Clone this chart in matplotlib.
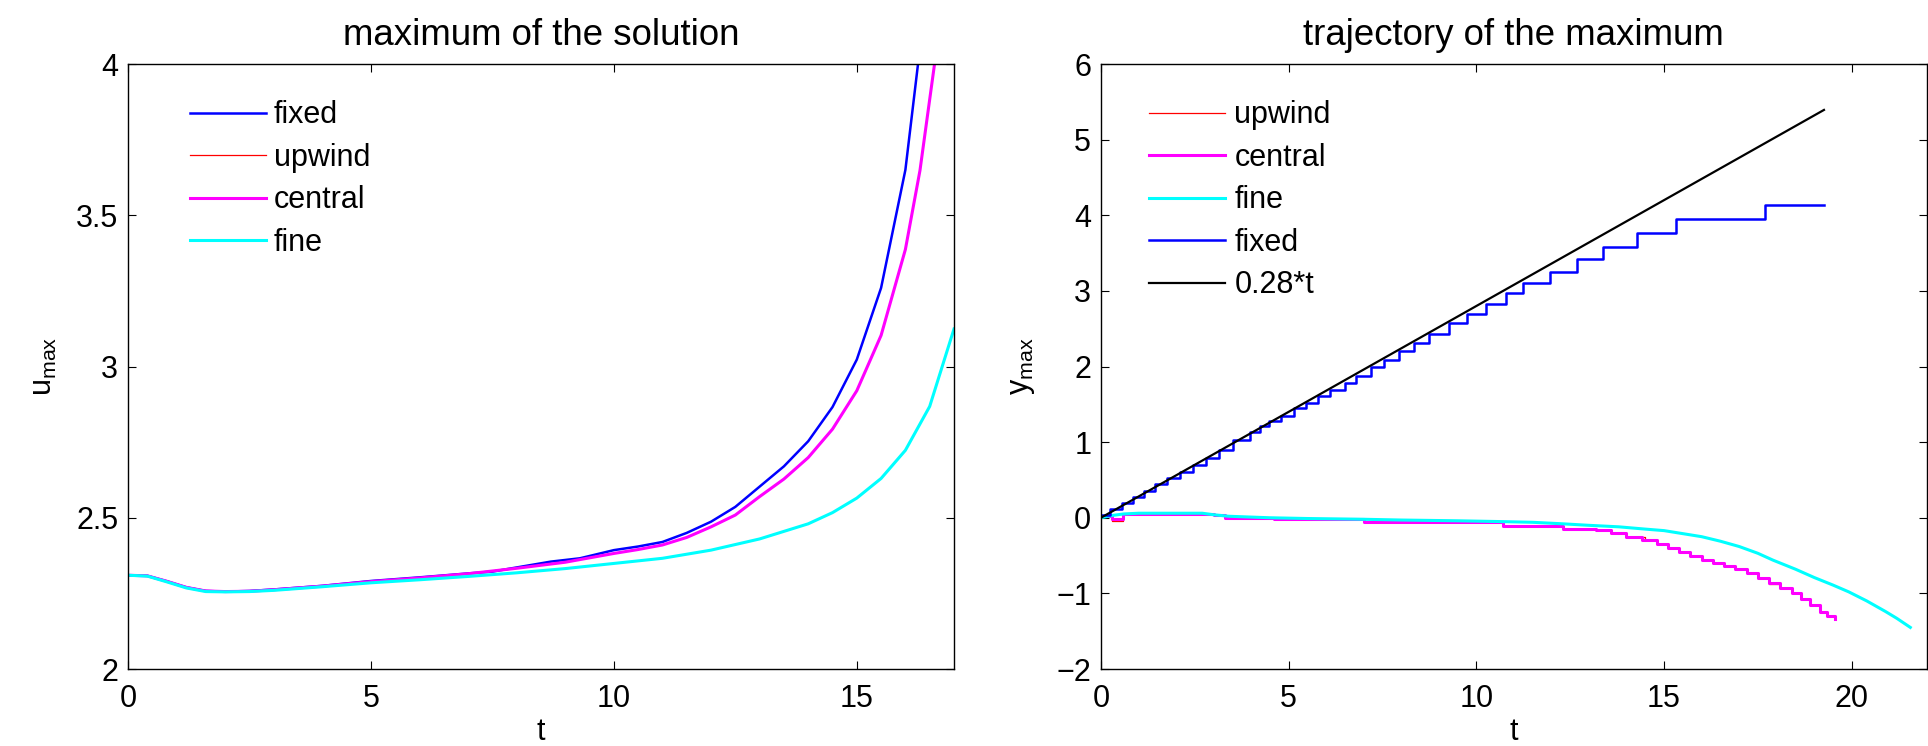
import numpy as np
import matplotlib
matplotlib.use("Agg")
import matplotlib.pyplot as plt
from matplotlib.ticker import FuncFormatter

plt.rcParams['font.family'] = ['Liberation Sans', 'DejaVu Sans']
plt.rcParams['mathtext.default'] = 'regular'
plt.rcParams['font.size'] = 22

BLUE, RED, MAGENTA, CYAN = '#0000ff', '#ff0000', '#ff00ff', '#00ffff'

# ---- left panel: maximum of the solution ----
t_fixed = [0, 0.4, 0.8, 1.2, 1.6, 2.0, 2.5, 3, 4, 5, 6, 7, 7.5, 8.7, 9.3, 10, 10.5, 11,
           11.5, 12, 12.5, 13, 13.5, 14, 14.5, 15, 15.5, 16, 16.26]
u_fixed = [2.31, 2.308, 2.29, 2.27, 2.258, 2.256, 2.258, 2.263, 2.275, 2.291, 2.303, 2.316,
           2.322, 2.355, 2.366, 2.393, 2.405, 2.42, 2.45, 2.487, 2.536, 2.603, 2.67, 2.753,
           2.866, 3.023, 3.26, 3.65, 4.0]

t_central = [0, 0.4, 0.8, 1.2, 1.6, 2.0, 2.5, 3, 4, 5, 6, 7, 8, 9, 10, 10.5, 11, 11.5, 12,
             12.5, 13, 13.5, 14, 14.5, 15, 15.5, 16, 16.3, 16.6]
u_central = [2.31, 2.308, 2.29, 2.27, 2.258, 2.256, 2.257, 2.262, 2.274, 2.289, 2.301, 2.315,
             2.333, 2.353, 2.382, 2.395, 2.41, 2.435, 2.47, 2.509, 2.57, 2.628, 2.699, 2.793,
             2.92, 3.103, 3.387, 3.648, 4.0]
t_upwind = t_central
u_upwind = u_central

t_fine = [0, 0.4, 0.8, 1.2, 1.6, 2.0, 2.5, 3, 4, 5, 6, 7, 8, 9, 10, 11, 12, 13, 14, 14.5,
          15, 15.5, 16, 16.5, 17]
u_fine = [2.31, 2.307, 2.288, 2.268, 2.256, 2.255, 2.256, 2.26, 2.272, 2.285, 2.295, 2.306,
          2.318, 2.332, 2.349, 2.366, 2.393, 2.43, 2.48, 2.517, 2.565, 2.63, 2.723, 2.868, 3.124]

# ---- right panel: trajectory of the maximum ----
tr_fixed = [0, 0.25, 0.55, 0.85, 1.15, 1.45, 1.75, 2.1, 2.45, 2.8, 3.15, 3.51, 3.96, 4.23,
            4.49, 4.8, 5.14, 5.47, 5.78, 6.09, 6.49, 6.8, 7.2, 7.53, 7.95, 8.35, 8.75, 9.28,
            9.76, 10.27, 10.79, 11.23, 11.97, 12.68, 13.37, 14.28, 15.31, 17.7, 19.26]
y_fixed = [0.04, 0.12, 0.2, 0.28, 0.36, 0.44, 0.52, 0.61, 0.7, 0.79, 0.9, 1.03, 1.14, 1.21,
           1.28, 1.35, 1.45, 1.52, 1.61, 1.69, 1.78, 1.88, 2.0, 2.09, 2.21, 2.31, 2.43, 2.57,
           2.69, 2.83, 2.97, 3.11, 3.255, 3.42, 3.586, 3.76, 3.95, 4.14, 4.14]

tr_central = [0, 0.3, 0.6, 1.0, 2.0, 2.8, 3.0, 3.3, 4.2, 4.6, 6.5, 7.0, 9.0, 10.5, 10.7,
              12.0, 12.3, 13.2, 13.6, 14.0, 14.4, 14.8, 15.1, 15.4, 15.7, 16.0, 16.3, 16.6,
              16.9, 17.2, 17.5, 17.8, 18.1, 18.4, 18.65, 18.9, 19.15, 19.35, 19.56]
y_central = [0.02, -0.02, 0.05, 0.05, 0.05, 0.05, 0.03, 0.0, 0.0, -0.02, -0.02, -0.05, -0.05,
             -0.06, -0.11, -0.11, -0.15, -0.16, -0.2, -0.25, -0.3, -0.35, -0.4, -0.45, -0.5,
             -0.56, -0.6, -0.64, -0.68, -0.73, -0.79, -0.86, -0.93, -1.0, -1.08, -1.16, -1.24,
             -1.3, -1.34]
tr_upwind = [0, 0.3, 0.6, 1.0, 2.0, 2.8, 3.0, 3.3, 4.2, 4.6, 6.5, 7.0, 9.0, 10.5, 10.7,
             12.0, 12.3, 13.2, 13.6, 14.0, 14.5, 14.8, 15.1, 15.4, 15.7, 16.0, 16.3, 16.6,
             16.9, 17.2, 17.5, 17.8, 18.1, 18.4, 18.65, 18.9, 19.15, 19.35, 19.56]
y_upwind = [0.02, -0.04, 0.05, 0.05, 0.05, 0.05, 0.03, 0.0, 0.0, -0.02, -0.02, -0.05, -0.05,
            -0.06, -0.11, -0.11, -0.15, -0.16, -0.2, -0.25, -0.3, -0.35, -0.4, -0.45, -0.5,
            -0.56, -0.6, -0.64, -0.68, -0.73, -0.79, -0.88, -0.93, -1.0, -1.08, -1.16, -1.24,
            -1.3, -1.34]

tr_fine = [0, 0.3, 0.6, 1.0, 2.0, 2.7, 3.0, 3.4, 4.5, 5.5, 7.0, 8.0, 9.5, 10.6, 11.5, 12.3,
           13.0, 13.8, 14.5, 15.0, 15.5, 16.0, 16.5, 17.0, 17.5, 17.9, 18.5, 19.0, 19.5,
           19.92, 20.4, 20.9, 21.2, 21.56]
y_fine = [0.0, 0.03, 0.05, 0.06, 0.06, 0.06, 0.04, 0.02, 0.0, -0.01, -0.02, -0.03, -0.04,
          -0.05, -0.06, -0.08, -0.1, -0.12, -0.15, -0.17, -0.21, -0.25, -0.31, -0.38, -0.47,
          -0.56, -0.68, -0.79, -0.89, -0.98, -1.1, -1.24, -1.33, -1.45]

slope = 0.28
tr_lin = np.array([0, 19.26])


def tick_fmt(v, pos):
    return f'{v:g}'.replace('-', '\u2212')


def style_axes(ax):
    ax.tick_params(direction='in', top=True, right=True, length=5.5, width=0.8,
                   labelsize=22)
    ax.tick_params(axis='x', pad=11)
    ax.tick_params(axis='y', pad=7)
    ax.yaxis.set_major_formatter(FuncFormatter(tick_fmt))
    for s in ax.spines.values():
        s.set_linewidth(1.0)


fig = plt.figure(figsize=(19.28, 7.46), dpi=100)
ax1 = fig.add_axes([0.0664, 0.1032, 0.4284, 0.811])
ax2 = fig.add_axes([0.571, 0.1032, 0.4284, 0.811])

ax1.plot(t_fixed, u_fixed, color=BLUE, lw=1.8, label='fixed')
ax1.plot(t_upwind, u_upwind, color=RED, lw=0.9, label='upwind')
ax1.plot(t_central, u_central, color=MAGENTA, lw=2.2, label='central')
ax1.plot(t_fine, u_fine, color=CYAN, lw=2.2, label='fine')
ax1.set_xlim(0, 17)
ax1.set_ylim(2, 4)
ax1.set_xticks([0, 5, 10, 15])
ax1.set_yticks([2, 2.5, 3, 3.5, 4])
ax1.set_title('maximum of the solution', pad=14)
ax1.set_xlabel('t', labelpad=2)
ax1.set_ylabel('u$_{max}$', labelpad=12)
style_axes(ax1)
ax1.legend(loc='upper left', bbox_to_anchor=(0.075, 0.94), frameon=False,
           handlelength=2.5, handletextpad=0.25, labelspacing=0.41,
           borderpad=0, borderaxespad=0)

ax2.plot(tr_upwind, y_upwind, color=RED, lw=0.9, drawstyle='steps-post', label='upwind')
ax2.plot(tr_central, y_central, color=MAGENTA, lw=2.2, drawstyle='steps-post',
         label='central')
ax2.plot(tr_fine, y_fine, color=CYAN, lw=2.2, label='fine')
ax2.plot(tr_fixed, y_fixed, color=BLUE, lw=1.8, drawstyle='steps-post', label='fixed')
ax2.plot(tr_lin, slope * tr_lin, color='k', lw=1.6, label='0.28*t')
ax2.set_xlim(0, 22)
ax2.set_ylim(-2, 6)
ax2.set_xticks([0, 5, 10, 15, 20])
ax2.set_yticks(range(-2, 7))
ax2.set_title('trajectory of the maximum', pad=14)
ax2.set_xlabel('t', labelpad=2)
ax2.set_ylabel('y$_{max}$', labelpad=14)
style_axes(ax2)
ax2.legend(loc='upper left', bbox_to_anchor=(0.058, 0.94), frameon=False,
           handlelength=2.5, handletextpad=0.3, labelspacing=0.41,
           borderpad=0, borderaxespad=0)

fig.savefig('out.png', dpi=100)
